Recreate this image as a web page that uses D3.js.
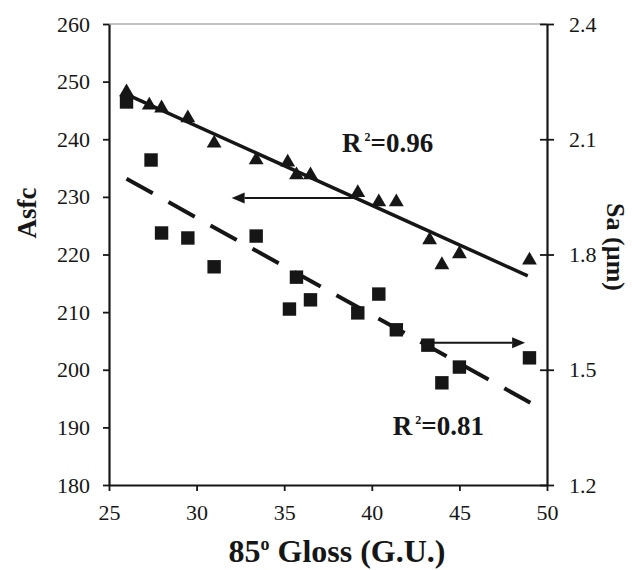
<!DOCTYPE html>
<html>
<head>
<meta charset="utf-8">
<script src="https://cdn.jsdelivr.net/npm/d3@7/dist/d3.min.js"></script>
<style>
  html, body { margin: 0; padding: 0; background: #fff; }
  svg { display: block; }
</style>
</head>
<body>
<svg id="chart" width="632" height="570"></svg>
<script>
// ---------------- data ----------------
const glossTri = [26.0, 27.3, 28.0, 29.5, 31.0, 33.4, 35.2, 35.7, 36.5, 39.2, 40.4, 41.4, 43.3, 44.0, 45.0, 49.0];
const asfcValues = [248.2, 245.9, 245.4, 243.7, 239.3, 236.4, 236.0, 233.8, 233.8, 230.7, 229.1, 229.1, 222.5, 218.2, 220.1, 219.0];

const glossSq = [26.0, 27.4, 28.0, 29.5, 31.0, 33.4, 35.7, 35.3, 36.5, 39.2, 40.4, 41.4, 43.2, 44.0, 45.0, 49.0];
const saValues = [2.197, 2.046, 1.856, 1.843, 1.768, 1.848, 1.741, 1.658, 1.682, 1.648, 1.697, 1.604, 1.564, 1.466, 1.507, 1.531];

const asfcTrendX = [26.0, 48.9];
const asfcTrendY = [247.8, 216.3];
const saTrendX = [26.0, 49.05];
const saTrendY = [1.997, 1.414];

const xTicks = [25, 30, 35, 40, 45, 50];
const leftTicks = [180, 190, 200, 210, 220, 230, 240, 250, 260];
const rightTicks = [1.2, 1.5, 1.8, 2.1, 2.4];

const r2Labels = ["0.96", "0.81"];
const xTitle = "Gloss (G.U.)";
const leftTitle = "Asfc";
const rightTitle = "Sa (µm)";

// ---------------- layout ----------------
const svg = d3.select("#chart");
const W = 632, H = 570;
const m = { left: 109, right: 85, top: 24, bottom: 85 };
const font = "'Liberation Serif', 'Times New Roman', Times, serif";
const ink = "#161616";

const x = d3.scaleLinear().domain([25, 50]).range([m.left, W - m.right]);
const yL = d3.scaleLinear().domain([180, 260]).range([H - m.bottom, m.top]);
const yR = d3.scaleLinear().domain([1.2, 2.4]).range([H - m.bottom, m.top]);

// top border of plot area
svg.append("line")
  .attr("x1", x(25)).attr("x2", x(50))
  .attr("y1", yL(260)).attr("y2", yL(260))
  .attr("stroke", "#888").attr("stroke-width", 1.2);

// x axis
const gx = svg.append("g")
  .attr("transform", `translate(0,${H - m.bottom})`)
  .call(d3.axisBottom(x).tickValues(xTicks).tickSize(6).tickSizeOuter(0).tickPadding(13).tickFormat(d3.format("d")));

// left axis
const gl = svg.append("g")
  .attr("transform", `translate(${m.left},0)`)
  .call(d3.axisLeft(yL).tickValues(leftTicks).tickSize(6).tickSizeOuter(0).tickPadding(13).tickFormat(d3.format("d")));

// right axis (crossing ticks)
const gr = svg.append("g")
  .attr("transform", `translate(${W - m.right},0)`)
  .call(d3.axisRight(yR).tickValues(rightTicks).tickSize(7).tickSizeOuter(0).tickPadding(15).tickFormat(d3.format(".1f")));
gr.selectAll(".tick line").attr("x1", -7).attr("x2", 7);

[gx, gl, gr].forEach(g => {
  g.select(".domain").attr("stroke", ink).attr("stroke-width", 2.2);
  g.selectAll(".tick line").attr("stroke", ink).attr("stroke-width", 1.8);
  g.selectAll(".tick text")
    .attr("font-family", font).attr("font-size", 22).attr("fill", ink);
});

// ---------------- trend lines ----------------
const lineL = d3.line().x(d => x(d[0])).y(d => yL(d[1]));
const lineR = d3.line().x(d => x(d[0])).y(d => yR(d[1]));

svg.append("path")
  .datum(d3.zip(asfcTrendX, asfcTrendY))
  .attr("d", lineL)
  .attr("fill", "none").attr("stroke", ink).attr("stroke-width", 3.5);

svg.append("path")
  .datum(d3.zip(saTrendX, saTrendY))
  .attr("d", lineR)
  .attr("fill", "none").attr("stroke", ink).attr("stroke-width", 4)
  .attr("stroke-dasharray", "30,18");

// ---------------- markers ----------------
svg.append("g").selectAll("path")
  .data(d3.zip(glossSq, saValues))
  .join("path")
  .attr("transform", d => `translate(${x(d[0])},${yR(d[1])})`)
  .attr("d", d3.symbol(d3.symbolSquare, 180))
  .attr("fill", ink);

svg.append("g").selectAll("path")
  .data(d3.zip(glossTri, asfcValues))
  .join("path")
  .attr("transform", d => `translate(${x(d[0])},${yL(d[1])})`)
  .attr("d", d3.symbol(d3.symbolTriangle, 95))
  .attr("fill", ink);

// ---------------- arrows ----------------
function arrow(x1, x2, yy) {
  const dir = Math.sign(x2 - x1);
  const hl = 13, hw = 5.5;
  svg.append("line")
    .attr("x1", x1).attr("x2", x2 - dir * hl)
    .attr("y1", yy).attr("y2", yy)
    .attr("stroke", ink).attr("stroke-width", 2);
  svg.append("path")
    .attr("d", `M${x2},${yy} L${x2 - dir * hl},${yy - hw} L${x2 - dir * hl},${yy + hw} Z`)
    .attr("fill", ink);
}
arrow(x(39.05), x(32.0), yL(229.8));
arrow(x(43.5), x(48.75), yR(1.570));

// ---------------- R² labels ----------------
function r2(xx, yy, val) {
  const t = svg.append("text")
    .attr("x", xx).attr("y", yy)
    .attr("font-family", font).attr("font-weight", "bold")
    .attr("font-size", 27).attr("fill", ink);
  t.append("tspan").text("R");
  t.append("tspan").attr("font-size", 12).attr("dx", 3).attr("dy", -11).text("2");
  t.append("tspan").attr("dy", 11).text("=" + val);
}
r2(x(38.3), yL(237.8), r2Labels[0]);
r2(x(41.2), yL(188.7), r2Labels[1]);

// ---------------- axis titles ----------------
const xt = svg.append("text")
  .attr("x", 337).attr("y", 562)
  .attr("text-anchor", "middle")
  .attr("font-family", font).attr("font-weight", "bold")
  .attr("font-size", 32).attr("fill", ink);
xt.append("tspan").text("85");
xt.append("tspan").attr("font-size", 18).attr("dy", -12).text("o");
xt.append("tspan").attr("dy", 12).text(" " + xTitle);

svg.append("text")
  .attr("transform", "translate(36,213) rotate(-90)")
  .attr("text-anchor", "middle")
  .attr("font-family", font).attr("font-weight", "bold")
  .attr("font-size", 27).attr("fill", ink)
  .text(leftTitle);

svg.append("text")
  .attr("transform", "translate(607,247) rotate(90)")
  .attr("text-anchor", "middle")
  .attr("font-family", font).attr("font-weight", "bold")
  .attr("font-size", 26).attr("fill", ink)
  .text(rightTitle);
</script>
</body>
</html>
